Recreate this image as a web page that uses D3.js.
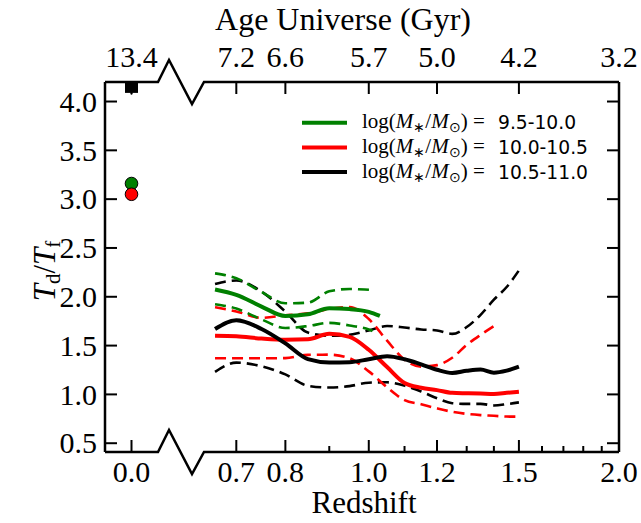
<!DOCTYPE html>
<html><head><meta charset="utf-8">
<script src="https://cdn.jsdelivr.net/npm/d3@7"></script>
<style>
body{margin:0;background:#fff}svg{display:block}
.serif{font-family:"Liberation Serif"}
.sans{font-family:"DejaVu Sans"}
</style>
</head><body><svg id="c" width="641" height="523"></svg>
<script>
// ---------- data ----------
const zGrid = [0.66,0.70,0.75,0.80,0.85,0.90,0.95,1.00,1.05,1.10,1.15,1.20,1.25,1.30,1.35,1.40,1.45,1.50];
const blackMed = [1.67,1.76,1.67,1.523,1.362,1.328,1.33,1.36,1.39,1.36,1.308,1.253,1.22,1.242,1.255,1.223,1.244,1.285];
const blackHi  = [2.13,2.167,2.053,1.848,1.633,1.60,1.61,1.655,1.70,1.685,1.665,1.655,1.62,1.69,1.815,1.97,2.10,2.27];
const blackLo  = [1.23,1.325,1.288,1.205,1.088,1.07,1.085,1.12,1.124,1.09,1.03,0.96,0.91,0.903,0.903,0.887,0.90,0.918];
const redMed   = [1.60,1.595,1.572,1.56,1.565,1.62,1.59,1.457,1.28,1.117,1.068,1.044,1.016,1.012,1.009,1.005,1.016,1.028];
const zRedHi   = [0.66,0.70,0.75,0.80,0.85,0.90,0.95,1.00,1.05,1.10,1.15,1.20,1.25,1.30,1.35,1.40];
const redHi    = [1.893,1.85,1.784,1.81,1.83,1.876,1.895,1.772,1.55,1.356,1.285,1.30,1.375,1.507,1.61,1.70];
const redLo    = [1.37,1.37,1.37,1.372,1.405,1.407,1.37,1.236,1.073,0.941,0.899,0.857,0.822,0.80,0.788,0.781,0.773,0.772];
const zGreen   = [0.66,0.70,0.75,0.80,0.85,0.90,0.95,1.00,1.03];
const greenMed = [2.075,2.02,1.90,1.803,1.82,1.882,1.874,1.846,1.804];
const zGreenD  = [0.66,0.70,0.75,0.80,0.85,0.90,0.95,1.00,1.01];
const greenHi  = [2.24,2.19,2.05,1.933,1.94,2.056,2.08,2.072,2.07];
const greenLo  = [1.924,1.879,1.768,1.68,1.70,1.733,1.706,1.665,1.65];
// z = 0 points
const localNames = ["green","red","black"];
const localValues = [3.16, 3.05, 4.155];
// axis ticks
const zMajor = [0.7,0.8,1.0,1.2,1.5,2.0];
const zMinor = [0.9,1.1,1.3,1.4,1.6,1.7,1.8,1.9];
const zLocal = [0.0];
const ageTickZ = [0.0,0.7,0.8,1.0,1.2,1.5,2.0];
const ageLabels = ["13.4","7.2","6.6","5.7","5.0","4.2","3.2"];
const yTicks = [0.5,1.0,1.5,2.0,2.5,3.0,3.5,4.0];
const legendLabels = ["9.5-10.0","10.0-10.5","10.5-11.0"];
const colors = {green:"#008000", red:"#ff0000", black:"#000000"};

// ---------- scales ----------
const svg = d3.select("#c");
const top_ = 82, bot = 452;
const xLeft = d3.scaleLinear().domain([-0.1,0.1]).range([105,158]);
const xA = d3.scaleLinear().domain([1/(1+0.64), 1/3]).range([204,619]);
const xz = z => xA(1/(1+z));
const y = d3.scaleLinear().domain([0.41,4.2]).range([bot,top_]);

const defs = svg.append("defs");
defs.append("clipPath").attr("id","clipR").append("rect")
  .attr("x",xA.range()[0]).attr("y",top_).attr("width",xA.range()[1]-xA.range()[0]).attr("height",bot-top_);
defs.append("clipPath").attr("id","clipL").append("rect")
  .attr("x",xLeft.range()[0]).attr("y",top_).attr("width",xLeft.range()[1]-xLeft.range()[0]).attr("height",bot-top_);

// ---------- data lines ----------
const gLines = svg.append("g").attr("clip-path","url(#clipR)");
const line = d3.line().x(d=>xz(d[0])).y(d=>y(d[1])).curve(d3.curveMonotoneX);
function draw(zs, vs, col, dashed){
  gLines.append("path").datum(zs.map((z,i)=>[z,vs[i]]))
    .attr("d",line).attr("fill","none").attr("stroke",colors[col])
    .attr("stroke-width",dashed?2.6:4).attr("stroke-dasharray",dashed?"11,6":null)
    .attr("stroke-linejoin","round");
}
draw(zGrid, blackHi, "black", true);
draw(zGrid, blackLo, "black", true);
draw(zRedHi, redHi, "red", true);
draw(zGrid, redLo, "red", true);
draw(zGreenD, greenHi, "green", true);
draw(zGreenD, greenLo, "green", true);
draw(zGrid, redMed, "red", false);
draw(zGrid, blackMed, "black", false);
draw(zGreen, greenMed, "green", false);

// ---------- z = 0 markers ----------
const gL = svg.append("g").attr("clip-path","url(#clipL)");
localNames.forEach((n,i)=>{
  if(n==="black"){
    gL.append("line").attr("x1",xLeft(0)).attr("x2",xLeft(0))
      .attr("y1",y(localValues[i]-0.085)).attr("y2",y(localValues[i]+0.1)).attr("stroke","#000").attr("stroke-width",1.5);
    gL.append("rect").attr("x",xLeft(0)-6.5).attr("y",y(localValues[i])-6.5).attr("width",13).attr("height",13)
      .attr("fill","#000");
  } else {
    gL.append("circle").attr("cx",xLeft(0)).attr("cy",y(localValues[i])).attr("r",6.3)
      .attr("fill",colors[n]).attr("stroke","#000").attr("stroke-width",1);
  }
});

// ---------- frame with break marks ----------
const frame = svg.append("g").attr("fill","none").attr("stroke","#000").attr("stroke-width",2.5)
  .attr("stroke-linejoin","miter");
const bx0 = xLeft.range()[1], bx1 = xA.range()[0];
const zig = yy => [[xLeft.range()[0],yy],[bx0,yy],[bx0+11,yy-22],[bx1-12,yy+22],[bx1,yy],[xA.range()[1],yy]];
frame.append("path").attr("d",d3.line()(zig(top_)));
frame.append("path").attr("d",d3.line()(zig(bot)));
frame.append("line").attr("x1",xLeft.range()[0]).attr("x2",xLeft.range()[0]).attr("y1",top_).attr("y2",bot);
frame.append("line").attr("x1",xA.range()[1]).attr("x2",xA.range()[1]).attr("y1",top_).attr("y2",bot);

// ticks
const tk = svg.append("g").attr("stroke","#000").attr("stroke-width",2);
const majorLen = 12, minorLen = 6;
const xTickPos = zMajor.map(xz).concat(zLocal.map(xLeft));
xTickPos.forEach(x=>{
  tk.append("line").attr("x1",x).attr("x2",x).attr("y1",bot).attr("y2",bot-majorLen);
  tk.append("line").attr("x1",x).attr("x2",x).attr("y1",top_).attr("y2",top_+majorLen);
});
zMinor.map(xz).forEach(x=>{
  tk.append("line").attr("x1",x).attr("x2",x).attr("y1",bot).attr("y2",bot-minorLen);
});
yTicks.forEach(v=>{
  tk.append("line").attr("x1",xLeft.range()[0]).attr("x2",xLeft.range()[0]+majorLen).attr("y1",y(v)).attr("y2",y(v));
  tk.append("line").attr("x1",xA.range()[1]).attr("x2",xA.range()[1]-majorLen).attr("y1",y(v)).attr("y2",y(v));
});

// ---------- text ----------
const fmt = d3.format(".1f");
const txt = svg.append("g").attr("class","serif").attr("fill","#000").style("font-size","30px");
yTicks.forEach(v=>{
  txt.append("text").attr("x",97).attr("y",y(v)).attr("dy","0.34em").attr("text-anchor","end").text(fmt(v));
});
zLocal.forEach(z=>txt.append("text").attr("x",xLeft(z)).attr("y",482).attr("text-anchor","middle").text(fmt(z)));
zMajor.forEach(z=>txt.append("text").attr("x",xz(z)).attr("y",482).attr("text-anchor","middle").text(fmt(z)));
ageTickZ.forEach((z,i)=>{
  const x = z===0 ? xLeft(z) : xz(z);
  txt.append("text").attr("x",x).attr("y",67).attr("text-anchor","middle").text(ageLabels[i]);
});
txt.append("text").attr("x",343).attr("y",30).style("font-size","32px").attr("text-anchor","middle").text("Age Universe (Gyr)");
txt.append("text").attr("x",364).attr("y",513).style("font-size","31px").attr("text-anchor","middle").text("Redshift");

// y label T_d / T_f
const yl = txt.append("text").attr("transform","translate(55,271) rotate(-90)").attr("text-anchor","middle").style("font-size","31px");
yl.append("tspan").style("font-style","italic").text("T");
yl.append("tspan").style("font-size","21px").attr("dy",5).text("d");
yl.append("tspan").attr("dy",-5).text("/");
yl.append("tspan").style("font-style","italic").text("T");
yl.append("tspan").style("font-size","21px").attr("dy",5).text("f");

// ---------- legend ----------
const leg = svg.append("g");
["green","red","black"].forEach((c,i)=>{
  const yy = 122.7 + i*24.7;
  leg.append("line").attr("x1",302).attr("x2",347).attr("y1",yy).attr("y2",yy)
    .attr("stroke",colors[c]).attr("stroke-width",4);
  const t = leg.append("text").attr("class","serif").attr("x",362).attr("y",yy+5.5).style("font-size","21px");
  t.append("tspan").text("log(");
  t.append("tspan").style("font-style","italic").text("M");
  t.append("tspan").style("font-size","13.5px").attr("dy",4).text("∗");
  t.append("tspan").attr("dy",-4).text("/");
  t.append("tspan").style("font-style","italic").text("M");
  t.append("tspan").style("font-size","13.5px").attr("dy",4).text("⊙");
  t.append("tspan").attr("dy",-4).text(") =");
  leg.append("text").attr("class","sans").attr("x",498).attr("y",yy+6.5)
    .style("font-size","18.7px").text(legendLabels[i]);
});
</script></body></html>
